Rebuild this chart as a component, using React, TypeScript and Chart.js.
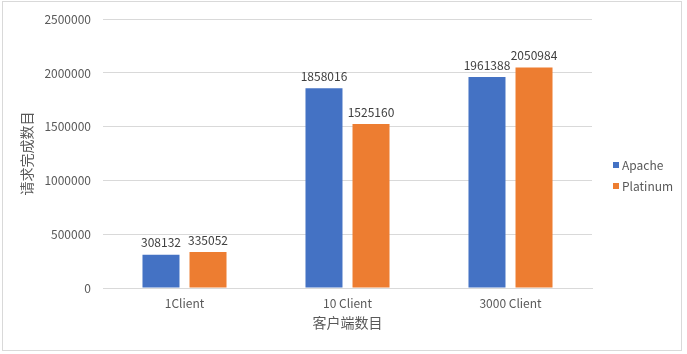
import React, { useEffect, useRef } from "react";
import { Chart, registerables } from "chart.js";

Chart.register(...registerables);

const categories = ["1Client", "10 Client", "3000 Client"];
const apacheValues = [308132, 1858016, 1961388];
const platinumValues = [335052, 1525160, 2050984];
const seriesNames = ["Apache", "Platinum"];
const seriesColors = ["#4472C4", "#ED7D31"];
const yTitle = "请求完成数目";
const xTitle = "客户端数目";

const FONT = "'Noto Sans CJK SC', 'Noto Sans', sans-serif";

const valueLabels = {
  id: "valueLabels",
  afterDatasetsDraw(chart: any) {
    const ctx = chart.ctx;
    ctx.save();
    ctx.font = `12px ${FONT}`;
    ctx.fillStyle = "#404040";
    ctx.textAlign = "center";
    ctx.textBaseline = "bottom";
    chart.data.datasets.forEach((ds: any, i: number) => {
      const meta = chart.getDatasetMeta(i);
      meta.data.forEach((bar: any, j: number) => {
        ctx.fillText(String(ds.data[j]), bar.x, bar.y - 6);
      });
    });
    ctx.restore();
  },
};

const customLegend = {
  id: "customLegend",
  afterDraw(chart: any) {
    const ctx = chart.ctx;
    ctx.save();
    ctx.font = `12px ${FONT}`;
    ctx.textBaseline = "middle";
    ctx.textAlign = "left";
    const x = chart.chartArea.right + 21;
    const y0 = 165;
    chart.data.datasets.forEach((ds: any, i: number) => {
      const y = y0 + i * 21;
      ctx.fillStyle = ds.backgroundColor;
      ctx.fillRect(x, y - 3, 6, 6);
      ctx.fillStyle = "#595959";
      ctx.fillText(ds.label, x + 9, y);
    });
    ctx.restore();
  },
};

export default function App() {
  const ref = useRef<HTMLCanvasElement>(null);
  useEffect(() => {
    if (!ref.current) return;
    const chart = new Chart(ref.current, {
      type: "bar",
      data: {
        labels: categories,
        datasets: [
          { label: seriesNames[0], data: apacheValues, backgroundColor: seriesColors[0] },
          { label: seriesNames[1], data: platinumValues, backgroundColor: seriesColors[1] },
        ],
      },
      options: {
        animation: false,
        responsive: false,
        maintainAspectRatio: false,
        layout: { padding: { left: 0, right: 95, top: 16, bottom: 23 } },
        plugins: {
          legend: { display: false },
          tooltip: { enabled: false },
        },
        datasets: {
          bar: { categoryPercentage: 0.577, barPercentage: 0.787 },
        },
        scales: {
          x: {
            grid: { display: false, drawTicks: false },
            border: { display: true, color: "#D9D9D9" },
            ticks: { color: "#595959", font: { family: FONT, size: 12 }, padding: 8 },
            title: {
              display: true,
              text: xTitle,
              color: "#595959",
              font: { family: FONT, size: 14 },
              padding: { top: 2, bottom: 0 },
            },
            afterFit: (s: any) => {
              s.height = 331 - 288;
            },
          },
          y: {
            min: 0,
            max: 2500000,
            ticks: {
              stepSize: 500000,
              color: "#595959",
              font: { family: FONT, size: 12 },
              padding: 12,
              callback: (v: any) => String(v),
            },
            grid: { color: "#D9D9D9", drawTicks: false },
            border: { display: false },
            title: {
              display: true,
              text: yTitle,
              color: "#595959",
              font: { family: FONT, size: 14 },
              padding: { top: 18, bottom: 0 },
            },
            afterFit: (s: any) => {
              s.width = 103;
            },
          },
        },
      },
      plugins: [valueLabels, customLegend],
    });
    return () => chart.destroy();
  }, []);

  return (
    <div style={{ position: "fixed", left: 0, top: 0, width: 687, height: 354, background: "#fff" }}>
      <canvas ref={ref} width={687} height={354} style={{ position: "absolute", left: 0, top: 0 }} />
      <div
        style={{
          position: "absolute",
          left: 2,
          top: 1,
          width: 680,
          height: 350,
          border: "1px solid #D9D9D9",
          boxSizing: "border-box",
          pointerEvents: "none",
        }}
      />
    </div>
  );
}
